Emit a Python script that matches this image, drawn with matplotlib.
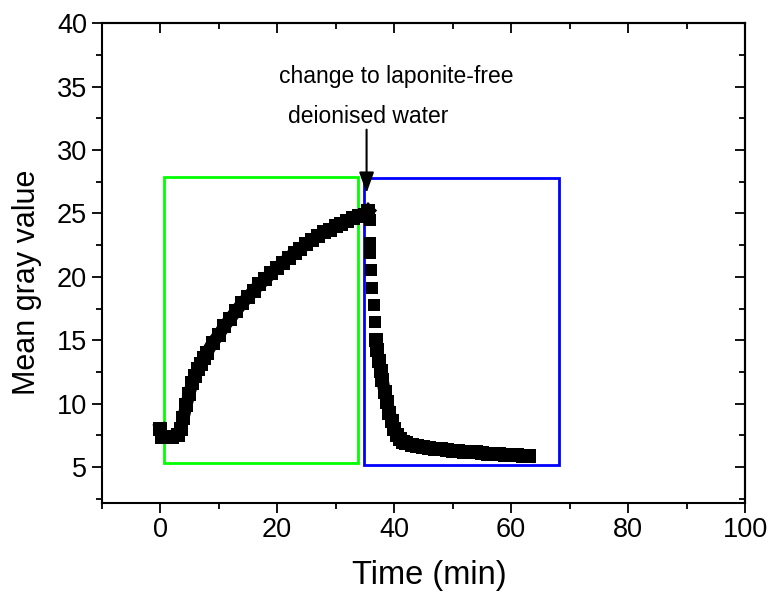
import matplotlib
matplotlib.use("Agg")
import matplotlib.pyplot as plt
from matplotlib.patches import Rectangle
from matplotlib.ticker import MultipleLocator

plt.rcParams['font.family'] = ['Liberation Sans', 'DejaVu Sans']

# growth phase (laponite suspension)
rise_t = [0, 0.3, 1, 2, 3, 3.5, 4, 4.5, 5, 5.5, 6, 6.5, 7, 7.5, 8, 9, 10, 11, 12, 13,
          14, 15, 16, 17, 18, 19, 20, 21, 22, 23, 24, 25, 26, 27, 28, 29, 30, 31, 32,
          33, 34, 35, 35.6]
rise_y = [8.0, 7.4, 7.35, 7.35, 7.5, 8.0, 8.9, 9.9, 10.8, 11.6, 12.2, 12.7, 13.1, 13.6,
          14.0, 14.8, 15.4, 16.1, 16.7, 17.3, 17.9, 18.4, 18.9, 19.4, 19.8, 20.3, 20.7,
          21.1, 21.5, 21.9, 22.2, 22.6, 22.9, 23.2, 23.5, 23.7, 24.0, 24.2, 24.4, 24.6,
          24.8, 24.9, 25.2]

# fast drop right after the switch (separate frames)
drop_t = [35.8, 35.9, 35.9, 36.1, 36.3, 36.5, 36.7]
drop_y = [24.5, 22.7, 21.9, 20.5, 19.15, 17.8, 16.4]

# slow washing tail (deionised water)
tail_t = [36.9, 37.1, 37.4, 37.7, 38.0, 38.4, 38.8, 39.2, 39.6, 40.0, 40.5, 41.0, 41.5,
          42, 43, 44, 45, 46, 47, 48, 49, 50, 51, 52, 53, 54, 55, 56, 57, 58, 59, 60,
          61, 62, 63]
tail_y = [15.0, 14.2, 13.4, 12.6, 11.9, 10.9, 10.1, 9.3, 8.6, 8.0, 7.5, 7.2, 7.0, 6.9,
          6.75, 6.65, 6.55, 6.5, 6.45, 6.4, 6.35, 6.3, 6.25, 6.2, 6.18, 6.15, 6.1, 6.05,
          6.02, 6.0, 5.97, 5.95, 5.92, 5.9, 5.85]

# boxes: (x0, y0, x1, y1)
green_box = [0.6, 5.3, 33.9, 27.85]
blue_box = [34.8, 5.2, 68.1, 27.8]

arrow_tip = (35.3, 26.6)
arrow_start = (35.3, 31.6)
note_line1 = "change to laponite-free"
note_line2 = "deionised water"

fig = plt.figure(figsize=(7.69, 5.92), dpi=100)
ax = fig.add_axes([0.132, 0.151, 0.837, 0.810])

ax.plot(rise_t, rise_y, 's-', color='black', markersize=9.5, markeredgewidth=0, lw=9)
ax.plot(drop_t, drop_y, 's', color='black', markersize=9, markeredgewidth=0)
ax.plot(tail_t, tail_y, 's-', color='black', markersize=9.5, markeredgewidth=0, lw=9)

for box, col in [(green_box, '#00ff00'), (blue_box, '#0000ff')]:
    ax.add_patch(Rectangle((box[0], box[1]), box[2] - box[0], box[3] - box[1],
                           fill=False, edgecolor=col, linewidth=2))

ax.annotate('', xy=arrow_tip, xytext=arrow_start,
            arrowprops=dict(arrowstyle='-|>,head_length=0.7,head_width=0.25', color='black',
                            lw=1.5, mutation_scale=18, shrinkA=0, shrinkB=0))
ax.text(20.3, 35.8, note_line1, ha='left', va='center', fontsize=16.5)
ax.text(21.8, 32.6, note_line2, ha='left', va='center', fontsize=16.5)

ax.set_xlim(-10, 100)
ax.set_ylim(2.2, 40)
ax.xaxis.set_major_locator(MultipleLocator(20))
ax.xaxis.set_minor_locator(MultipleLocator(10))
ax.yaxis.set_major_locator(MultipleLocator(5))
ax.yaxis.set_minor_locator(MultipleLocator(2.5))

ax.tick_params(which='both', direction='out', top=False, right=False, width=1.3,
               labelsize=19.5)
ax.tick_params(which='major', length=7)
ax.tick_params(which='minor', length=4)

# inward ticks on top and right
secx = ax.secondary_xaxis('top')
secx.xaxis.set_major_locator(MultipleLocator(20))
secx.xaxis.set_minor_locator(MultipleLocator(10))
secx.tick_params(which='both', direction='in', labeltop=False, width=1.3)
secx.tick_params(which='major', length=7)
secx.tick_params(which='minor', length=4)
secy = ax.secondary_yaxis('right')
secy.yaxis.set_major_locator(MultipleLocator(5))
secy.yaxis.set_minor_locator(MultipleLocator(2.5))
secy.tick_params(which='both', direction='in', labelright=False, width=1.3)
secy.tick_params(which='major', length=7)
secy.tick_params(which='minor', length=4)

for s in ax.spines.values():
    s.set_linewidth(1.5)
secx.spines['top'].set_linewidth(1.5)
secy.spines['right'].set_linewidth(1.5)

ax.set_xlabel('Time (min)', fontsize=23.5)
ax.set_ylabel('Mean gray value', fontsize=22)
ax.xaxis.set_label_coords(0.51, -0.12)
ax.yaxis.set_label_coords(-0.092, 0.46)

fig.savefig('out.png', dpi=100)
